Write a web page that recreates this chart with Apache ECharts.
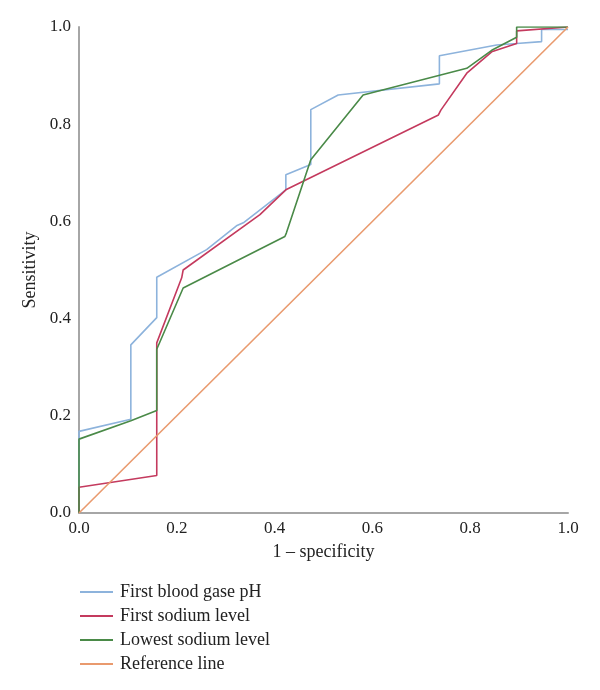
<!DOCTYPE html>
<html>
<head>
<meta charset="utf-8">
<script src="https://cdn.jsdelivr.net/npm/echarts@6/dist/echarts.min.js"></script>
<style>
  html, body { margin: 0; padding: 0; background: #fff; }
  #main { width: 600px; height: 690px; }
</style>
</head>
<body>
<div id="main"></div>
<script>
// 坐标轴刻度
const tickValues = [0, 0.2, 0.4, 0.6, 0.8, 1.0];

const seriesNames = ['First blood gase pH', 'First sodium level', 'Lowest sodium level', 'Reference line'];

// [1 - specificity, sensitivity]
const bloodPh = [
  [0, 0], [0, 0.168], [0.106, 0.193], [0.106, 0.346], [0.159, 0.402], [0.159, 0.485],
  [0.261, 0.542], [0.322, 0.591], [0.336, 0.597], [0.423, 0.665], [0.423, 0.696],
  [0.474, 0.717], [0.474, 0.83], [0.530, 0.86], [0.737, 0.883], [0.737, 0.941],
  [0.854, 0.963], [0.895, 0.966], [0.946, 0.970], [0.946, 0.995], [1, 0.995]
];
const firstSodium = [
  [0, 0], [0, 0.053], [0.159, 0.077], [0.159, 0.35], [0.21, 0.484], [0.213, 0.5],
  [0.37, 0.614], [0.423, 0.665], [0.735, 0.819], [0.74, 0.829], [0.793, 0.905],
  [0.844, 0.949], [0.895, 0.966], [0.895, 0.992], [1, 1]
];
const lowestSodium = [
  [0, 0], [0, 0.152], [0.106, 0.19], [0.159, 0.211], [0.159, 0.337], [0.213, 0.463],
  [0.421, 0.569], [0.424, 0.576], [0.474, 0.727], [0.581, 0.86], [0.793, 0.915],
  [0.844, 0.952], [0.895, 0.979], [0.895, 1], [1, 1]
];
const referenceLine = [[0, 0], [1, 1]];

const colors = ['#8db3dc', '#c43a5e', '#4a8a48', '#e99a6e'];
const font = 'Liberation Serif';

const chart = echarts.init(document.getElementById('main'));

function lineSeries(name, data, color) {
  return {
    name: name,
    type: 'line',
    data: data,
    symbol: 'none',
    animation: false,
    lineStyle: { color: color, width: 1.6 },
    itemStyle: { color: color }
  };
}

chart.setOption({
  textStyle: { fontFamily: font },
  grid: { left: 79, right: 32, top: 27, bottom: 177 },
  legend: {
    orient: 'vertical',
    left: 80,
    top: 583,
    padding: 0,
    icon: 'rect',
    itemWidth: 33,
    itemHeight: 2,
    itemGap: 6,
    data: seriesNames,
    textStyle: { fontFamily: font, fontSize: 18, color: '#222', padding: [0, 0, 0, 2] }
  },
  xAxis: {
    type: 'value',
    min: 0,
    max: 1,
    interval: 0.2,
    name: '1 \u2013 specificity',
    nameLocation: 'middle',
    nameGap: 30,
    nameTextStyle: { fontFamily: font, fontSize: 18, color: '#222' },
    axisLine: { lineStyle: { color: '#a6a6a6', width: 2 } },
    axisTick: { show: false },
    splitLine: { show: false },
    axisLabel: {
      margin: 7,
      fontFamily: font,
      fontSize: 17,
      color: '#222',
      formatter: v => v.toFixed(1)
    }
  },
  yAxis: {
    type: 'value',
    min: 0,
    max: 1,
    interval: 0.2,
    name: 'Sensitivity',
    nameLocation: 'middle',
    nameGap: 40,
    nameTextStyle: { fontFamily: font, fontSize: 18, color: '#222' },
    axisLine: { show: true, lineStyle: { color: '#a6a6a6', width: 2 } },
    axisTick: { show: false },
    splitLine: { show: false },
    axisLabel: {
      margin: 8,
      fontFamily: font,
      fontSize: 17,
      color: '#222',
      formatter: v => v.toFixed(1)
    }
  },
  series: [
    lineSeries(seriesNames[0], bloodPh, colors[0]),
    lineSeries(seriesNames[1], firstSodium, colors[1]),
    lineSeries(seriesNames[2], lowestSodium, colors[2]),
    lineSeries(seriesNames[3], referenceLine, colors[3])
  ]
});
</script>
</body>
</html>
